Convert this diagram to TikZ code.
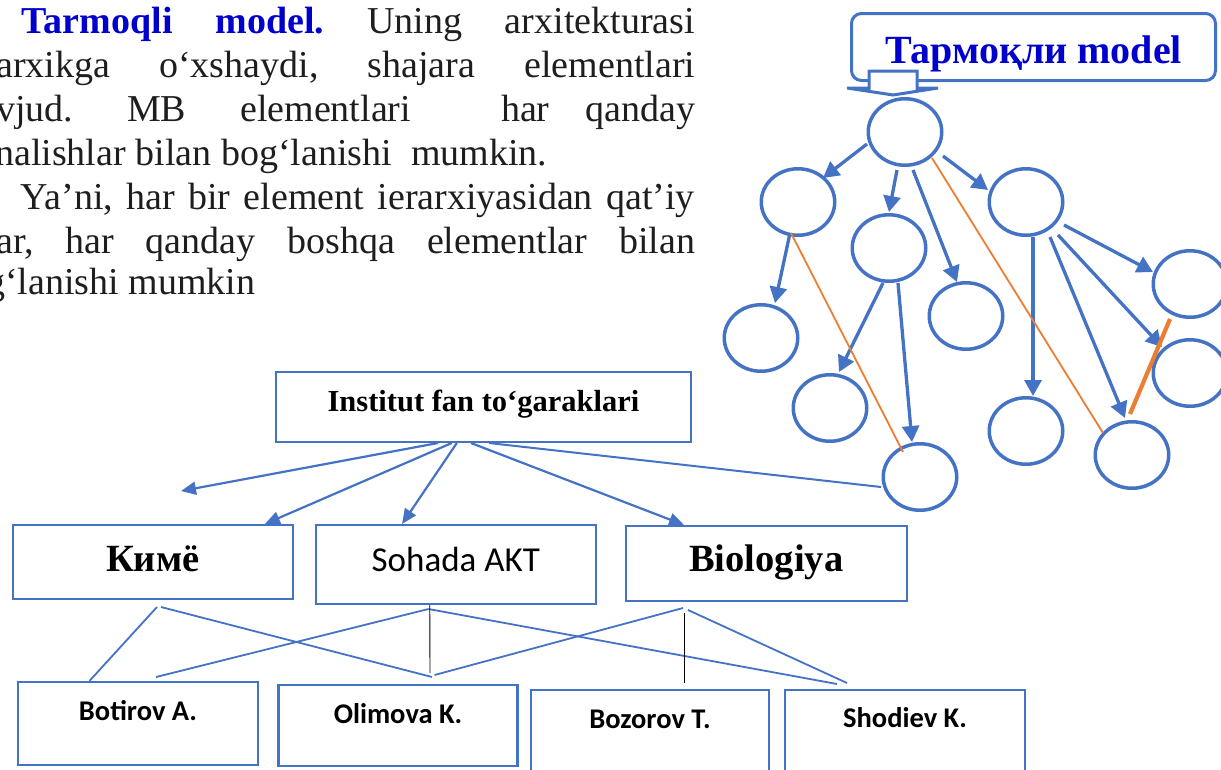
\documentclass[tikz,border=0pt]{standalone}
\usepackage{fontspec}
\setmainfont{Liberation Serif}
\newfontfamily\calfont{Carlito}
\usetikzlibrary{shapes.geometric,arrows.meta,calc}
\definecolor{ofblue}{RGB}{68,114,196}
\definecolor{oforange}{RGB}{237,125,49}
\definecolor{ttblue}{RGB}{0,0,204}
\definecolor{txtgray}{RGB}{30,30,30}
\frenchspacing
\tikzset{
  paraline/.style={anchor=base west, inner sep=0pt, text=txtgray, font=\fontsize{38}{44}\selectfont},
  netnode/.style={ellipse, draw=ofblue, line width=3.5pt, minimum width=73.5pt, minimum height=66.5pt, inner sep=0pt},
  netarrow/.style={draw=ofblue, line width=3.3pt, -{Triangle[length=16pt,width=17pt]}},
  orgthin/.style={draw=oforange, line width=1.8pt},
  orgthick/.style={draw=oforange, line width=4.2pt},
  orgbox/.style={draw=ofblue, line width=2pt, rectangle, inner sep=0pt},
  treearrow/.style={draw=ofblue, line width=2.2pt, -{Triangle[length=15pt,width=13pt]}},
  treeline/.style={draw=ofblue, line width=1.8pt},
  blackline/.style={draw=black, line width=0.9pt},
  namebox/.style={draw=ofblue, line width=2.3pt, rectangle, inner sep=0pt, text height=18pt, font=\calfont\bfseries\fontsize{28.5}{34}\selectfont},
}
\begin{document}
\begin{tikzpicture}[x=1pt,y=-1pt]
\useasboundingbox (0,0) rectangle (1221,769);
\clip (0,0) rectangle (1221,769);

% ---------- paragraph ----------
\node[paraline] (p1) at (21.7,33) {\makebox[673pt][s]{\textbf{\color{ttblue}Tarmoqli model.} Uning arxitekturasi}};
\node[paraline] (p2) at (-4,77) {\makebox[699pt][s]{arxikga o‘xshaydi, shajara elementlari}};
\node[paraline] (p3) at (-4,121) {\makebox[699pt][s]{vjud.\ \ \ MB\ \ \ elementlari\ \ \ \ \ har\ \ qanday}};
\node[paraline] (p4) at (-5,165) {nalishlar bilan bog‘lanishi\ \ mumkin.};
\node[paraline] (p5) at (20.7,209) {\makebox[674pt][s]{Ya’ni, har bir element ierarxiyasidan qat’iy}};
\node[paraline] (p6) at (-4,253) {\makebox[699pt][s]{ar, har qanday boshqa elementlar bilan}};
\node[paraline] (p7) at (-14,294) {g‘lanishi mumkin};

% ---------- network ----------
\node[draw=ofblue, line width=3pt, rounded corners=10pt, minimum width=364pt, minimum height=67pt, inner sep=0pt, text=ttblue, font=\bfseries\fontsize{40}{46}\selectfont, text height=34pt, text depth=2pt] (title) at (1033.5,47) {Тармоқли model};
\draw[ofblue, line width=3pt, fill=white, line join=miter] (869,71) -- (917,71) -- (917,88) -- (938,88) -- (893,95) -- (847,88) -- (869,88) -- cycle;

\node[netnode] (E0) at (905,132) {};
\node[netnode] (E1) at (798,202) {};
\node[netnode] (E2) at (889,248) {};
\node[netnode] (E3) at (1026,202) {};
\node[netnode] (E4) at (1190,284) {};
\node[netnode] (E5) at (1190,373) {};
\node[netnode] (E6) at (966,316) {};
\node[netnode] (E7) at (761,338) {};
\node[netnode] (E8) at (830,408) {};
\node[netnode] (E9) at (920,477) {};
\node[netnode] (E10) at (1026,431) {};
\node[netnode] (E11) at (1132,455) {};

\draw[netarrow] ($(E0)+(-38,12)$) -- ($(E1)+(25,-24)$);
\draw[netarrow] ($(E0)+(-8,38)$) -- ($(E2)+(0,-36)$);
\draw[netarrow] ($(E0)+(8,38)$) -- ($(E6)+(-9,-34)$);
\draw[netarrow] ($(E0)+(38,24)$) -- ($(E3)+(-38,-12)$);
\draw[netarrow] ($(E1)+(-8,31)$) -- ($(E7)+(14,-35)$);
\draw[netarrow] ($(E2)+(-6,35)$) -- ($(E8)+(9,-36)$);
\draw[netarrow] ($(E2)+(9,35)$) -- ($(E9)+(-8,-35)$);
\draw[netarrow] ($(E3)+(7,35)$) -- ($(E10)+(7,-35)$);
\draw[netarrow] ($(E3)+(24,35)$) -- ($(E11)+(-7,-37)$);
\draw[netarrow] ($(E3)+(32,33)$) -- ($(E5)+(-28,-26)$);
\draw[netarrow] ($(E3)+(38,23)$) -- ($(E4)+(-37,-12)$);

\draw[orgthin] ($(E1)+(-7,31)$) -- ($(E9)+(-17,-25)$);
\draw[orgthin] ($(E0)+(27,26)$) -- ($(E11)+(-29,-22)$);
\draw[orgthick] ($(E4)+(-20,35)$) -- ($(E11)+(-2,-41)$);

% ---------- tree ----------
\node[orgbox, minimum width=415pt, minimum height=70pt, font=\bfseries\fontsize{30.5}{36}\selectfont, text height=21pt, text depth=13pt] (inst) at (483.5,407) {Institut fan to‘garaklari};
\node[orgbox, minimum width=280.5pt, minimum height=74pt, font=\bfseries\fontsize{38.5}{44}\selectfont, text height=25pt, text depth=7pt] (kime) at (152.75,562) {Кимё};
\node[orgbox, minimum width=280.5pt, minimum height=79pt, font=\calfont\fontsize{35}{40}\selectfont, text height=22pt, text depth=9pt] (sohada) at (455.75,564.5) {Sohada AKT};
\node[orgbox, minimum width=281.5pt, minimum height=75pt, font=\bfseries\fontsize{38.5}{44}\selectfont, text height=24pt, text depth=8pt] (bio) at (766.25,563.5) {Biologiya};

\node[namebox, minimum width=240pt, minimum height=83pt, text depth=25pt] (bot) at (138,723.5) {Botirov A.};
\node[namebox, minimum width=239pt, minimum height=81pt, text depth=23pt] (oli) at (398,725.7) {Olimova K.};
\node[namebox, minimum width=238pt, minimum height=81pt, text depth=23.4pt] (boz) at (650,730.7) {Bozorov T.};
\node[namebox, minimum width=240pt, minimum height=81pt, text depth=23pt] (sho) at (905,730.3) {Shodiev K.};

\coordinate (void) at (181,491);
\draw[treearrow] ($(inst.south west)!0.391!(inst.south east)$) -- (void);
\draw[treearrow] ($(inst.south west)!0.424!(inst.south east)$) -- ($(kime.north west)!0.897!(kime.north east)$);
\draw[treearrow] ($(inst.south west)!0.436!(inst.south east)$) -- ($(sohada.north west)!0.31!(sohada.north east)$);
\draw[treearrow] ($(inst.south west)!0.47!(inst.south east)$) -- ($(bio.north west)!0.21!(bio.north east)$);
\draw[treeline, line width=2pt] ($(inst.south west)!0.513!(inst.south east)$) -- ($(E9)+(-39,10)$);

\coordinate (k1) at (157,607);
\coordinate (k2) at (161,607);
\coordinate (s1) at (428.5,609);
\coordinate (b1) at (683,608);
\coordinate (b2) at (688,610);
\coordinate (bt) at (156,677);
\coordinate (ot1) at (432,677);
\coordinate (ot2) at (434.5,675);
\coordinate (st1) at (837,684);
\coordinate (st2) at (847,683);
\coordinate (ov) at (430,673);
\coordinate (bv1) at (684,613);
\coordinate (bv2) at (684,683);

\draw[treeline] (k1) -- ($(bot.north west)!0.30!(bot.north east)$);
\draw[treeline] (k2) -- (ot1);
\draw[treeline] (bt) -- (s1);
\draw[treeline] (s1) -- (st1);
\draw[treeline] (ot2) -- (b1);
\draw[treeline] (b2) -- (st2);
\draw[blackline] ($(sohada.south west)!0.408!(sohada.south east)$) -- (ov);
\draw[blackline] (bv1) -- (bv2);
\end{tikzpicture}
\end{document}
